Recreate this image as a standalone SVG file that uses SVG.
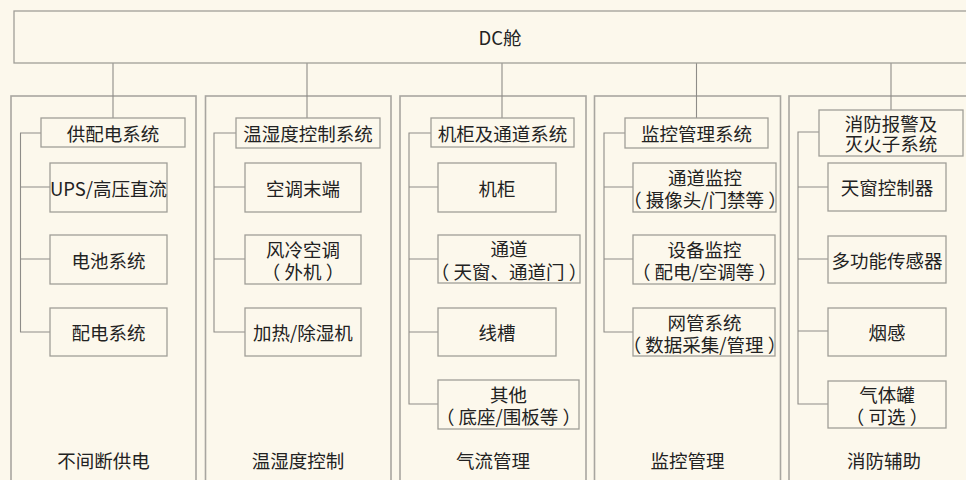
<svg xmlns="http://www.w3.org/2000/svg" width="966" height="480" viewBox="0 0 966 480">
<style>
.bg{fill:#fcf8ec}
.col{fill:#fcf8ec;stroke:#a8a6a0;stroke-width:1.6}
.box{fill:#fcf8ec;stroke:#a09e98;stroke-width:1.3}
.ln{fill:none;stroke:#8e8c88;stroke-width:1.1}
text{font-family:"Noto Sans CJK SC","Noto Sans",sans-serif;font-size:18.5px;fill:#222;text-anchor:middle;dominant-baseline:central}
</style>
<rect class="bg" x="0" y="0" width="966" height="480"/>
<g id="columns">
<rect class="col" x="11" y="96" width="185" height="400"/>
<rect class="col" x="205.5" y="96" width="185.5" height="400"/>
<rect class="col" x="400" y="96" width="186" height="400"/>
<rect class="col" x="594.5" y="96" width="186" height="400"/>
<rect class="col" x="789" y="96" width="200" height="400"/>
</g>
<g id="connectors">
<path class="ln" d="M113 63V118M307 63V118M502 63V118M696.5 63V118M891 63V110"/>
<path class="ln" d="M41 133H20.5V332H50M20.5 187H50M20.5 259H50"/>
<path class="ln" d="M236 133H214V332H245M214 187H245M214 259H245"/>
<path class="ln" d="M431 133H409V404H438M409 187H438M409 259H438M409 332H438"/>
<path class="ln" d="M625 133H604V332H633M604 187H633M604 259H633"/>
<path class="ln" d="M819 132H798V404H828M798 187H828M798 259H828M798 331H828"/>
</g>
<g id="dc">
<rect class="box" x="14" y="11" width="970" height="52"/>
<text x="500" y="37">DC舱</text>
</g>
<g id="h1"><rect class="box" x="41" y="118" width="144" height="29"/><text x="113" y="132.5">供配电系统</text></g>
<g id="h2"><rect class="box" x="236" y="118" width="144" height="30"/><text x="308" y="133">温湿度控制系统</text></g>
<g id="h3"><rect class="box" x="431" y="118" width="143" height="29"/><text x="502.5" y="132.5">机柜及通道系统</text></g>
<g id="h4"><rect class="box" x="625" y="118" width="143" height="30"/><text x="696.5" y="133">监控管理系统</text></g>
<g id="h5"><rect class="box" x="819" y="110" width="144" height="46"/><text x="891" y="123">消防报警及</text><text x="891" y="143">灭火子系统</text></g>

<g id="c1a"><rect class="box" x="50" y="163" width="117" height="49"/><text x="108.5" y="187.5">UPS/高压直流</text></g>
<g id="c1b"><rect class="box" x="50" y="235" width="117" height="49"/><text x="108.5" y="259.5">电池系统</text></g>
<g id="c1c"><rect class="box" x="50" y="308" width="117" height="48"/><text x="108.5" y="332">配电系统</text></g>

<g id="c2a"><rect class="box" x="245" y="163" width="116" height="49"/><text x="303" y="187.5">空调末端</text></g>
<g id="c2b"><rect class="box" x="245" y="235" width="116" height="49"/><text x="303" y="248.5">风冷空调</text><text x="303" y="271">（ 外机 ）</text></g>
<g id="c2c"><rect class="box" x="245" y="308" width="116" height="48"/><text x="303" y="332">加热/除湿机</text></g>

<g id="c3a"><rect class="box" x="438" y="163" width="118" height="49"/><text x="497" y="187.5">机柜</text></g>
<g id="c3b"><rect class="box" x="438" y="235" width="142" height="48"/><text x="509" y="248">通道</text><text x="509" y="270.5">（ 天窗、通道门 ）</text></g>
<g id="c3c"><rect class="box" x="438" y="308" width="118" height="48"/><text x="497" y="332">线槽</text></g>
<g id="c3d"><rect class="box" x="438" y="380" width="141" height="49"/><text x="508.5" y="393.5">其他</text><text x="508.5" y="416">（ 底座/围板等 ）</text></g>

<g id="c4a"><rect class="box" x="633" y="163" width="143" height="49"/><text x="705" y="176.5">通道监控</text><text x="705" y="199">（ 摄像头/门禁等 ）</text></g>
<g id="c4b"><rect class="box" x="633" y="235" width="142" height="49"/><text x="704.5" y="248.5">设备监控</text><text x="704.5" y="271">（ 配电/空调等 ）</text></g>
<g id="c4c"><rect class="box" x="633" y="308" width="142" height="48"/><text x="704.5" y="321.5">网管系统</text><text x="704.5" y="344">（ 数据采集/管理 ）</text></g>

<g id="c5a"><rect class="box" x="828" y="163" width="118" height="48"/><text x="887" y="187">天窗控制器</text></g>
<g id="c5b"><rect class="box" x="828" y="236" width="118" height="47"/><text x="887" y="259.5">多功能传感器</text></g>
<g id="c5c"><rect class="box" x="828" y="308" width="118" height="48"/><text x="887" y="332">烟感</text></g>
<g id="c5d"><rect class="box" x="828" y="381" width="118" height="47"/><text x="887" y="393.5">气体罐</text><text x="887" y="416">（ 可选 ）</text></g>

<g id="labels">
<text x="103.5" y="460">不间断供电</text>
<text x="298" y="460">温湿度控制</text>
<text x="493" y="460">气流管理</text>
<text x="687.5" y="460">监控管理</text>
<text x="884" y="460">消防辅助</text>
</g>
</svg>
